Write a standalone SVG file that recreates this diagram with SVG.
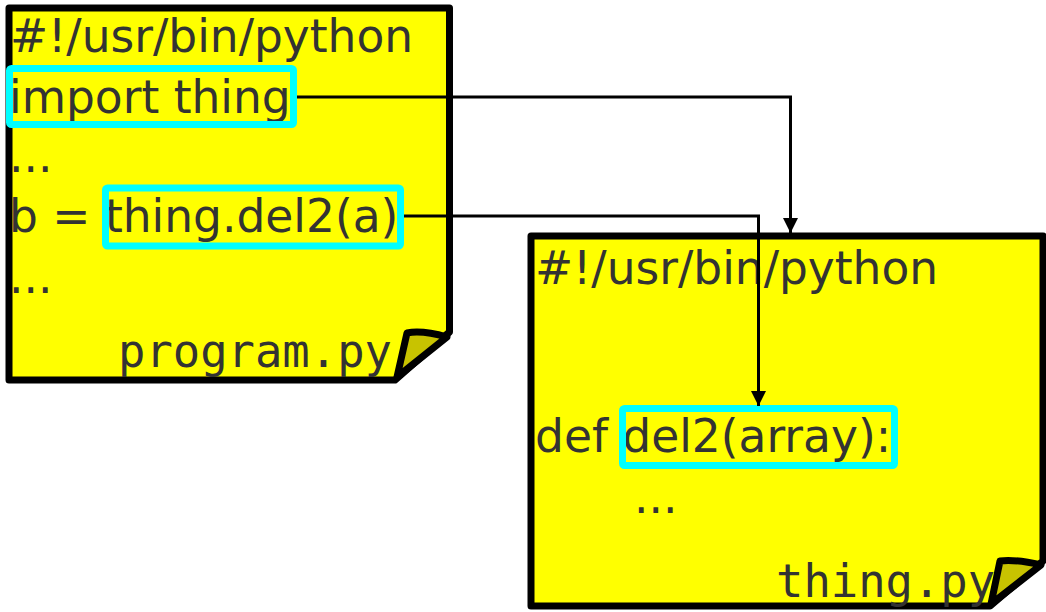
<svg xmlns="http://www.w3.org/2000/svg" width="1046" height="612" viewBox="0 0 1046 612">
<style>
.note{fill:#ffff00;stroke:#000;stroke-width:7;stroke-linejoin:round}
.fold{fill:#c8c300;stroke:#000;stroke-width:7;stroke-linejoin:round}
.t{font-family:"DejaVu Sans",sans-serif;font-size:45.5px;fill:#333}
.m{font-family:"DejaVu Sans Mono",monospace;font-size:45.5px;fill:#333}
.hl{fill:none;stroke:#00ffff;stroke-width:7;stroke-linejoin:round}
.c{fill:none;stroke:#000;stroke-width:3}
</style>
<defs>
<marker id="ah" viewBox="0 0 10 10" refX="10" refY="5" markerWidth="5" markerHeight="5.5" markerUnits="strokeWidth" orient="auto">
<path d="M0,0 L10,5 L0,10 Z" fill="#000"/>
</marker>
</defs>
<g id="program">
<path class="note" d="M9,8 H449.5 V332 L395,380 H9 Z"/>
<path class="fold" d="M407,333 Q422,330 447,337 L397,377 Z"/>
<text class="t" x="10" y="52">#!/usr/bin/python</text>
<text class="t" x="9" y="113">import thing</text>
<text class="t" x="9" y="172">...</text>
<text class="t" x="9" y="232">b = thing.del2(a)</text>
<text class="t" x="9" y="293">...</text>
<text class="m" x="118" y="367">program.py</text>
<rect class="hl" x="9.5" y="68.5" width="284" height="56" rx="2"/>
<rect class="hl" x="105.5" y="188" width="295" height="58" rx="2"/>
</g>
<g id="thing">
<path class="note" d="M531,236 H1043 V561 L990,606 H531 Z"/>
<path class="fold" d="M1000,561 Q1015,559 1041,565 L991,604 Z"/>
<text class="t" x="535" y="284">#!/usr/bin/python</text>
<text class="t" x="535" y="452">def del2(array):</text>
<text class="t" x="634" y="513">...</text>
<text class="m" x="776" y="597">thing.py</text>
<rect class="hl" x="622.5" y="408.5" width="272" height="57" rx="2"/>
</g>
<g id="connectors">
<path class="c" d="M297,97 H790.5 V233" marker-end="url(#ah)"/>
<path class="c" d="M404,216 H758.5 V406" marker-end="url(#ah)"/>
</g>
</svg>
